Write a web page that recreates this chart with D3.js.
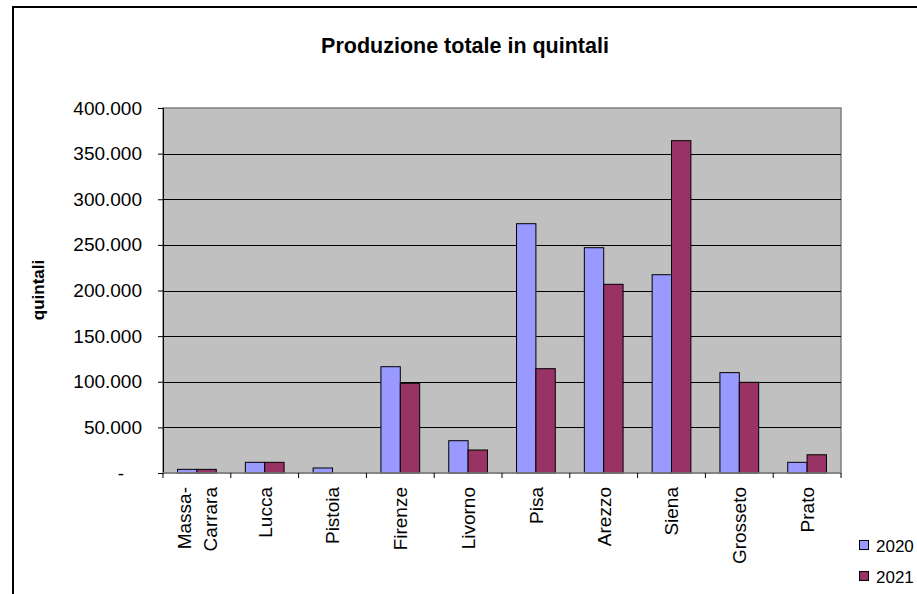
<!DOCTYPE html>
<html><head><meta charset="utf-8">
<script src="https://cdn.jsdelivr.net/npm/d3@7"></script>
<style>body{margin:0;background:#fff}svg{display:block;font-family:"Liberation Sans",Arial,sans-serif}</style>
</head><body>
<svg id="c" width="917" height="594"></svg>
<script>
const categories = ["Massa-Carrara","Lucca","Pistoia","Firenze","Livorno","Pisa","Arezzo","Siena","Grosseto","Prato"];
const series = ["2020","2021"];
const values2020 = [4000, 11700, 5500, 116500, 35400, 273200, 246900, 217300, 110000, 11700];
const values2021 = [4000, 11700, 0, 98300, 25200, 114300, 206800, 364200, 99400, 20000];
const yTicks = [0, 50000, 100000, 150000, 200000, 250000, 300000, 350000, 400000];
const colors = ["#9999FF", "#993366"];

const svg = d3.select("#c");
// outer border
svg.append("rect").attr("x", 13).attr("y", 7).attr("width", 920).attr("height", 600)
  .attr("fill", "#fff").attr("stroke", "#000").attr("stroke-width", 2);

const L = 163, R = 841, T = 108, B = 473;
const x = d3.scaleBand().domain(categories).range([L, R]).paddingInner(0).paddingOuter(0);
const y = d3.scaleLinear().domain([0, 400000]).range([B, T]);
const gw = x.bandwidth() / 3.5;
const xs = d3.scaleBand().domain(series).range([0, gw * 2]);

svg.append("rect").attr("x", L).attr("y", T).attr("width", R - L).attr("height", B - T)
  .attr("fill", "#C0C0C0").attr("stroke", "#808080").attr("stroke-width", 1.5);

// gridlines
svg.append("g").selectAll("line").data(yTicks.filter(d => d > 0 && d < 400000)).join("line")
  .attr("x1", L).attr("x2", R).attr("y1", d => Math.round(y(d)) + 0.5).attr("y2", d => Math.round(y(d)) + 0.5)
  .attr("stroke", "#000").attr("stroke-width", 1);

// bars
const data = categories.map((c, i) => ({c, v: [values2020[i], values2021[i]]}));
const g = svg.append("g");
data.forEach(d => {
  series.forEach((s, j) => {
    if (d.v[j] <= 0) return;
    g.append("rect")
      .attr("x", x(d.c) + (x.bandwidth() - gw * 2) / 2 + xs(s))
      .attr("y", y(d.v[j]))
      .attr("width", xs.bandwidth())
      .attr("height", B - y(d.v[j]))
      .attr("fill", colors[j]).attr("stroke", "#000").attr("stroke-width", 1);
  });
});

// y axis
const yAxis = d3.axisLeft(y).tickValues(yTicks).tickSize(5).tickFormat("");
const ya = svg.append("g").attr("transform", `translate(${L},0)`).call(yAxis);
ya.select(".domain").attr("stroke", "#000");
svg.append("g").selectAll("text").data(yTicks).join("text")
  .attr("x", d => d === 0 ? 124 : 142).attr("y", d => y(d) + 6.5)
  .attr("text-anchor", "end").attr("font-size", 19).attr("fill", "#000")
  .text(d => d === 0 ? "-" : (d / 1000) + ".000");

// x axis
const xa = svg.append("g").attr("transform", `translate(0,${B})`);
xa.append("line").attr("x1", L).attr("x2", R).attr("stroke", "#808080").attr("stroke-width", 1.5);
xa.selectAll(".t").data(d3.range(categories.length + 1)).join("line")
  .attr("x1", i => L + i * x.step()).attr("x2", i => L + i * x.step())
  .attr("y1", 0).attr("y2", 5).attr("stroke", "#000");

// x labels
const FX = 19;
categories.forEach(c => {
  const cx = x(c) + x.bandwidth() / 2;
  const lines = c === "Massa-Carrara" ? ["Massa-", "Carrara"] : [c];
  const t = svg.append("text").attr("transform", `translate(${cx},487) rotate(-90)`)
    .attr("text-anchor", "end").attr("font-size", FX).attr("fill", "#000");
  lines.forEach((ln, k) => {
    t.append("tspan").attr("x", 0).attr("y", (k - (lines.length - 1) / 2) * 26 + 0.36 * FX).text(ln);
  });
});

// titles
svg.append("text").attr("x", 465).attr("y", 53).attr("text-anchor", "middle")
  .attr("font-size", 21.5).attr("font-weight", "bold").text("Produzione totale in quintali");
svg.append("text").attr("transform", "translate(44,290) rotate(-90)").attr("text-anchor", "middle")
  .attr("font-size", 17).attr("font-weight", "bold").text("quintali");

// legend
series.forEach((s, j) => {
  const ly = 546 + j * 31;
  svg.append("rect").attr("x", 859.5).attr("y", ly - 5.5).attr("width", 9).attr("height", 9)
    .attr("fill", colors[j]).attr("stroke", "#000").attr("stroke-width", 1);
  svg.append("text").attr("x", 876).attr("y", ly + 6)
    .attr("font-size", 17).text(s);
});
</script>
</body></html>
